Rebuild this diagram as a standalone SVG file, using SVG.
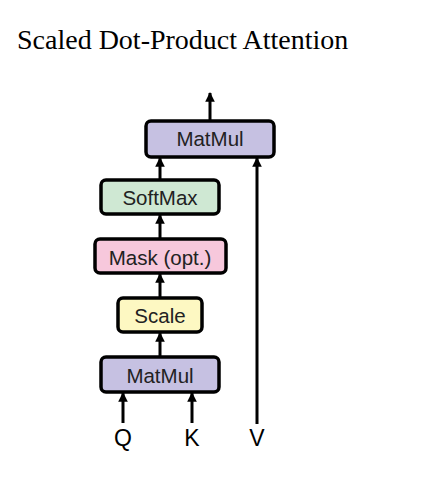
<svg xmlns="http://www.w3.org/2000/svg" width="431" height="495" viewBox="0 0 431 495">
<style>
.box{stroke:#000;stroke-width:3.5}
.lbl{font-family:"Liberation Sans",Arial,sans-serif;font-size:20.5px;fill:#222;text-anchor:middle}
.io{font-family:"Liberation Sans",Arial,sans-serif;font-size:23px;fill:#000;text-anchor:middle}
.title{font-family:"Liberation Serif","Times New Roman",serif;font-size:28px;fill:#000}
.conn{stroke:#000;stroke-width:3;fill:none;marker-end:url(#ah)}
</style>
<defs>
<marker id="ah" viewBox="0 0 10 10" refX="9" refY="5" markerWidth="3.2" markerHeight="3.2" orient="auto" markerUnits="strokeWidth">
<path d="M0,0 L10,5 L0,10 z" fill="#000"/>
</marker>
</defs>
<rect width="431" height="495" fill="#fff"/>
<text class="title" x="17" y="49">Scaled Dot-Product Attention</text>
<g id="connectors">
<line class="conn" x1="210" y1="120" x2="210" y2="93"/>
<line class="conn" x1="160" y1="179" x2="160" y2="158"/>
<line class="conn" x1="160" y1="238" x2="160" y2="215"/>
<line class="conn" x1="160" y1="297" x2="160" y2="274"/>
<line class="conn" x1="160" y1="356" x2="160" y2="333"/>
<line class="conn" x1="123" y1="423" x2="123" y2="393"/>
<line class="conn" x1="192" y1="423" x2="192" y2="393"/>
<line class="conn" x1="257" y1="424" x2="257" y2="158"/>
</g>
<g id="matmul-top">
<rect class="box" x="146" y="121" width="128" height="36" rx="5" fill="#c6c1e2"/>
<text class="lbl" x="210" y="146">MatMul</text>
</g>
<g id="softmax">
<rect class="box" x="101" y="180" width="118" height="34" rx="5" fill="#cfe8d3"/>
<text class="lbl" x="160" y="205">SoftMax</text>
</g>
<g id="mask">
<rect class="box" x="95" y="239" width="131" height="34" rx="5" fill="#f7c8dc"/>
<text class="lbl" x="160" y="265">Mask (opt.)</text>
</g>
<g id="scale">
<rect class="box" x="118" y="298" width="84" height="34" rx="5" fill="#fdf8c2"/>
<text class="lbl" x="160" y="323">Scale</text>
</g>
<g id="matmul-bottom">
<rect class="box" x="101" y="357" width="118" height="35" rx="5" fill="#c6c1e2"/>
<text class="lbl" x="160" y="383">MatMul</text>
</g>
<g id="inputs">
<text class="io" x="123" y="446">Q</text>
<text class="io" x="192" y="446">K</text>
<text class="io" x="257" y="446">V</text>
</g>
</svg>
